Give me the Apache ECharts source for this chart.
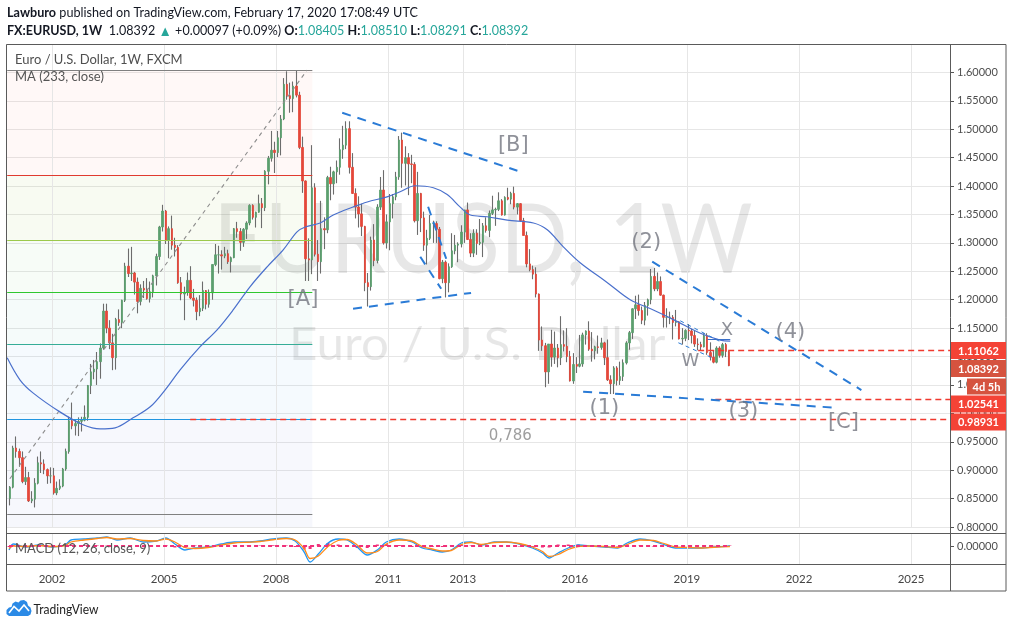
<!DOCTYPE html>
<html>
<head>
<meta charset="utf-8">
<script src="https://cdn.jsdelivr.net/npm/echarts@6/dist/echarts.min.js"></script>
<style>
html,body{margin:0;padding:0;background:#ffffff;}
#chart{width:1013px;height:628px;}
</style>
</head>
<body>
<div id="chart"></div>
<script>
// ================= DATA =================
// monthly EUR/USD candles, first one = Nov 2000
const firstMonth = [2000, 11];
const opens = [
0.8500,0.8700,
0.9390,0.9330,0.9220,0.8800,0.8870,0.8460,0.8490,0.8770,0.9130,0.9110,0.9010,0.8900,
0.8900,0.8600,0.8680,0.8720,0.9020,0.9330,0.9870,0.9780,0.9820,0.9860,0.9880,0.9930,
1.0490,1.0730,1.0780,1.0910,1.1150,1.1800,1.1500,1.1240,1.0980,1.1650,1.1600,1.1990,
1.2590,1.2460,1.2470,1.2310,1.1970,1.2200,1.2170,1.2020,1.2140,1.2420,1.2760,1.3280,
1.3560,1.3040,1.3250,1.2960,1.2920,1.2300,1.2100,1.2130,1.2340,1.2030,1.1990,1.1790,
1.1850,1.2160,1.1920,1.2120,1.2620,1.2790,1.2790,1.2770,1.2810,1.2670,1.2740,1.3250,
1.3200,1.3010,1.3240,1.3350,1.3660,1.3450,1.3540,1.3690,1.3620,1.4260,1.4490,1.4630,
1.4590,1.4850,1.5180,1.5790,1.5590,1.5540,1.5760,1.5600,1.4680,1.4090,1.2720,1.2700,
1.3970,1.2800,1.2670,1.3250,1.3230,1.4150,1.4040,1.4250,1.4330,1.4640,1.4720,1.5010,
1.4330,1.3870,1.3630,1.3510,1.3290,1.2300,1.2230,1.3050,1.2690,1.3630,1.3930,1.3000,
1.3370,1.3690,1.3810,1.4160,1.4810,1.4400,1.4500,1.4390,1.4380,1.3390,1.3870,1.3440,
1.2960,1.3080,1.3340,1.3340,1.3240,1.2370,1.2660,1.2300,1.2580,1.2860,1.2960,1.2980,
1.3190,1.3580,1.3060,1.2820,1.3170,1.2990,1.3010,1.3300,1.3220,1.3520,1.3580,1.3590,
1.3740,1.3490,1.3800,1.3770,1.3870,1.3630,1.3690,1.3390,1.3130,1.2630,1.2530,1.2450,
1.2100,1.1290,1.1190,1.0730,1.1220,1.0990,1.1150,1.0980,1.1210,1.1180,1.1000,1.0570,
1.0860,1.0830,1.0870,1.1380,1.1450,1.1130,1.1100,1.1170,1.1160,1.1240,1.0980,1.0590,
1.0520,1.0800,1.0580,1.0650,1.0890,1.1240,1.1420,1.1840,1.1910,1.1810,1.1640,1.1900,
1.2000,1.2410,1.2190,1.2320,1.2080,1.1690,1.1690,1.1690,1.1600,1.1610,1.1310,1.1320,
1.1460,1.1450,1.1370,1.1220,1.1210,1.1170,1.1370,1.1070,1.0990,1.0900,1.1150,1.1020,
1.1210,1.1090];
const highs = [
0.8720,0.9430,
0.9594,0.9380,0.9330,0.9060,0.8970,0.8630,0.8860,0.9240,0.9330,0.9190,0.9030,0.9050,
0.9040,0.8800,0.8840,0.9040,0.9380,0.9940,1.0190,0.9900,0.9930,0.9940,1.0140,1.0500,
1.0870,1.0940,1.1080,1.1230,1.1930,1.1930,1.1640,1.1400,1.1680,1.1830,1.2000,1.2650,
1.2900,1.2930,1.2490,1.2390,1.2270,1.2330,1.2380,1.2320,1.2440,1.2810,1.3300,1.3670,
1.3580,1.3290,1.3480,1.3090,1.2960,1.2400,1.2230,1.2480,1.2590,1.2190,1.2040,1.2080,
1.2320,1.2170,1.2180,1.2620,1.2980,1.2950,1.2870,1.2930,1.2880,1.2760,1.3260,1.3370,
1.3260,1.3260,1.3380,1.3680,1.3680,1.3550,1.3850,1.3790,1.4280,1.4530,1.4970,1.4780,
1.4970,1.5250,1.5900,1.6020,1.5820,1.5840,1.6040,1.5660,1.4870,1.4100,1.3080,1.4720,
1.4050,1.3050,1.3740,1.3450,1.4180,1.4340,1.4270,1.4450,1.4840,1.5060,1.5140,1.5140,
1.4580,1.3960,1.3820,1.3690,1.3300,1.2470,1.3110,1.3330,1.3680,1.4160,1.4280,1.3500,
1.3860,1.3860,1.4250,1.4880,1.4940,1.4700,1.4580,1.4550,1.4420,1.4250,1.3880,1.3550,
1.3230,1.3490,1.3390,1.3380,1.3280,1.2700,1.2690,1.2640,1.3170,1.3140,1.3010,1.3310,
1.3580,1.3710,1.3170,1.3240,1.3240,1.3420,1.3350,1.3450,1.3570,1.3830,1.3620,1.3890,
1.3770,1.3820,1.3970,1.3900,1.3990,1.3700,1.3700,1.3440,1.3200,1.2890,1.2600,1.2570,
1.2110,1.1530,1.1240,1.1220,1.1470,1.1440,1.1220,1.1710,1.1460,1.1500,1.1100,1.1060,
1.0990,1.1380,1.1420,1.1460,1.1620,1.1430,1.1190,1.1370,1.1330,1.1260,1.1300,1.0670,
1.0830,1.0830,1.0910,1.0950,1.1270,1.1450,1.1850,1.2070,1.2090,1.1880,1.1960,1.2020,
1.2540,1.2560,1.2480,1.2410,1.2090,1.1850,1.1790,1.1730,1.1820,1.1620,1.1500,1.1480,
1.1570,1.1490,1.1450,1.1320,1.1260,1.1410,1.1410,1.1250,1.1110,1.1180,1.1180,1.1240,
1.1240,1.1100];
const lows = [
0.8380,0.8680,
0.9220,0.9060,0.8770,0.8740,0.8440,0.8420,0.8344,0.8750,0.8950,0.8930,0.8760,0.8770,
0.8570,0.8560,0.8650,0.8700,0.8990,0.9290,0.9720,0.9610,0.9600,0.9680,0.9860,0.9870,
1.0340,1.0600,1.0500,1.0610,1.1120,1.1410,1.1130,1.0760,1.0770,1.1540,1.1500,1.1960,
1.2400,1.2330,1.2090,1.1760,1.1900,1.2030,1.2000,1.1950,1.2040,1.2250,1.2700,1.3200,
1.2980,1.2730,1.2880,1.2760,1.2280,1.1990,1.1640,1.2070,1.2010,1.1880,1.1640,1.1710,
1.1800,1.1830,1.1860,1.2000,1.2590,1.2460,1.2530,1.2730,1.2630,1.2480,1.2730,1.3090,
1.2860,1.2930,1.3070,1.3310,1.3410,1.3270,1.3530,1.3260,1.3560,1.4030,1.4430,1.4230,
1.4510,1.4540,1.5160,1.5520,1.5290,1.5300,1.5560,1.4650,1.3880,1.2330,1.2330,1.2450,
1.2760,1.2330,1.2460,1.2890,1.3170,1.3750,1.3850,1.4050,1.4200,1.4480,1.4650,1.4220,
1.3860,1.3430,1.3270,1.3120,1.2150,1.1880,1.2160,1.2590,1.2640,1.3580,1.2970,1.2900,
1.2870,1.3430,1.3750,1.4110,1.3970,1.4010,1.3840,1.4050,1.3360,1.3140,1.3190,1.2860,
1.2620,1.3050,1.3000,1.3000,1.2360,1.2290,1.2040,1.2130,1.2560,1.2800,1.2660,1.2920,
1.3000,1.3050,1.2750,1.2750,1.2790,1.2960,1.2750,1.3180,1.3100,1.3490,1.3300,1.3560,
1.3480,1.3480,1.3750,1.3680,1.3590,1.3500,1.3370,1.3130,1.2570,1.2500,1.2360,1.2040,
1.1100,1.1100,1.0460,1.0520,1.0820,1.0870,1.0810,1.0850,1.1090,1.0900,1.0560,1.0520,
1.0710,1.0810,1.0820,1.1210,1.1100,1.0910,1.0950,1.1050,1.1120,1.0850,1.0570,1.0340,
1.0340,1.0490,1.0500,1.0570,1.0860,1.1120,1.1310,1.1660,1.1720,1.1570,1.1550,1.1720,
1.1920,1.2150,1.2150,1.2070,1.1510,1.1510,1.1570,1.1300,1.1530,1.1300,1.1210,1.1270,
1.1290,1.1230,1.1170,1.1110,1.1110,1.1160,1.1030,1.0930,1.0880,1.0880,1.0980,1.0980,
1.0990,1.0830];
const closes = [
0.8700,0.9390,
0.9330,0.9220,0.8800,0.8870,0.8460,0.8490,0.8770,0.9130,0.9110,0.9010,0.8900,0.8900,
0.8600,0.8680,0.8720,0.9020,0.9330,0.9870,0.9780,0.9820,0.9860,0.9880,0.9930,1.0490,
1.0730,1.0780,1.0910,1.1150,1.1800,1.1500,1.1240,1.0980,1.1650,1.1600,1.1990,1.2590,
1.2460,1.2470,1.2310,1.1970,1.2200,1.2170,1.2020,1.2140,1.2420,1.2760,1.3280,1.3560,
1.3040,1.3250,1.2960,1.2920,1.2300,1.2100,1.2130,1.2340,1.2030,1.1990,1.1790,1.1850,
1.2160,1.1920,1.2120,1.2620,1.2790,1.2790,1.2770,1.2810,1.2670,1.2740,1.3250,1.3200,
1.3010,1.3240,1.3350,1.3660,1.3450,1.3540,1.3690,1.3620,1.4260,1.4490,1.4630,1.4590,
1.4850,1.5180,1.5790,1.5590,1.5540,1.5760,1.5600,1.4680,1.4090,1.2720,1.2700,1.3970,
1.2800,1.2670,1.3250,1.3230,1.4150,1.4040,1.4250,1.4330,1.4640,1.4720,1.5010,1.4330,
1.3870,1.3630,1.3510,1.3290,1.2300,1.2230,1.3050,1.2690,1.3630,1.3930,1.3000,1.3370,
1.3690,1.3810,1.4160,1.4810,1.4400,1.4500,1.4390,1.4380,1.3390,1.3870,1.3440,1.2960,
1.3080,1.3340,1.3340,1.3240,1.2370,1.2660,1.2300,1.2580,1.2860,1.2960,1.2980,1.3190,
1.3580,1.3060,1.2820,1.3170,1.2990,1.3010,1.3300,1.3220,1.3520,1.3580,1.3590,1.3740,
1.3490,1.3800,1.3770,1.3870,1.3630,1.3690,1.3390,1.3130,1.2630,1.2530,1.2450,1.2100,
1.1290,1.1190,1.0730,1.1220,1.0990,1.1150,1.0980,1.1210,1.1180,1.1000,1.0570,1.0860,
1.0830,1.0870,1.1380,1.1450,1.1130,1.1100,1.1170,1.1160,1.1240,1.0980,1.0590,1.0520,
1.0800,1.0580,1.0650,1.0890,1.1240,1.1420,1.1840,1.1910,1.1810,1.1640,1.1900,1.2000,
1.2410,1.2190,1.2320,1.2080,1.1690,1.1690,1.1690,1.1600,1.1610,1.1310,1.1320,1.1460,
1.1450,1.1370,1.1220,1.1210,1.1170,1.1370,1.1070,1.0990,1.0900,1.1150,1.1020,1.1210,
1.1090,1.0839];

// MA(233)
const maYears = [2000.80,2001.14,2001.49,2002.21,2002.83,2003.29,2003.69,2004.17,2004.63,2005.03,2005.43,2005.96,2006.42,2006.85,2007.30,2007.76,2008.19,2008.56,2008.78,2009.18,2009.53,2010.06,2010.44,2010.97,2011.32,2011.72,2012.21,2012.58,2012.93,2013.20,2013.65,2014.19,2014.89,2015.26,2015.69,2016.14,2016.87,2017.48,2018.10,2018.64,2019.36,2019.89,2020.16];
const maValues = [1.0977,1.0590,1.0360,1.0026,0.9800,0.9727,0.9745,0.9921,1.0115,1.0414,1.0766,1.1170,1.1470,1.1820,1.2227,1.2579,1.2878,1.3195,1.3280,1.3350,1.3490,1.3631,1.3720,1.3810,1.3900,1.4005,1.3970,1.3850,1.3630,1.3490,1.3460,1.3400,1.3350,1.3230,1.2930,1.2650,1.2300,1.2000,1.1820,1.1650,1.1410,1.1290,1.1270];

// MACD (12, 26, close, 9)
const macdYears = [2000.85,2000.96,2001.30,2001.65,2002.00,2002.35,2002.51,2002.86,2003.21,2003.47,2003.74,2004.09,2004.44,2004.79,2005.05,2005.29,2005.56,2005.83,2006.18,2006.53,2006.88,2007.22,2007.57,2007.92,2008.27,2008.51,2008.75,2008.91,2009.13,2009.39,2009.66,2009.90,2010.17,2010.44,2010.71,2010.95,2011.30,2011.64,2011.91,2012.18,2012.45,2012.69,2012.96,2013.22,2013.49,2013.84,2014.16,2014.51,2014.86,2015.13,2015.31,2015.55,2015.82,2016.09,2016.44,2016.79,2017.14,2017.40,2017.75,2018.10,2018.34,2018.69,2019.04,2019.39,2019.73,2020.15];
const macdValues = [-0.016,0.008,-0.004,0.004,-0.004,0.004,0.024,0.028,0.032,0.036,0.024,0.032,0.016,0.020,0.032,0.008,-0.016,-0.008,-0.004,0.008,0.016,0.016,0.020,0.028,0.032,0.020,-0.024,-0.064,-0.032,0.012,0.028,0.024,-0.004,-0.036,-0.016,0.016,0.028,0.016,-0.008,-0.016,-0.024,-0.016,0.012,0.016,0.004,0.016,0.016,0.008,-0.008,-0.028,-0.048,-0.028,-0.008,0.004,0.000,-0.004,-0.008,0.012,0.028,0.020,0.008,-0.008,-0.008,-0.008,-0.004,0.000];
const signalValues = [-0.010,0.000,-0.002,0.002,-0.002,0.002,0.016,0.024,0.030,0.034,0.028,0.030,0.022,0.020,0.028,0.016,-0.006,-0.010,-0.006,0.004,0.012,0.015,0.018,0.025,0.030,0.024,-0.010,-0.050,-0.040,-0.002,0.022,0.026,0.004,-0.028,-0.022,0.008,0.024,0.020,-0.002,-0.012,-0.020,-0.018,0.006,0.014,0.006,0.014,0.016,0.010,-0.004,-0.022,-0.042,-0.034,-0.014,-0.002,0.000,-0.002,-0.006,0.006,0.024,0.022,0.012,-0.004,-0.006,-0.008,-0.005,-0.002];
const histValues = [-0.004,0.004,-0.002,0.002,-0.002,0.002,0.006,0.004,0.002,0.002,-0.004,0.002,-0.005,0.000,0.004,-0.006,-0.008,0.002,0.002,0.004,0.004,0.001,0.002,0.003,0.002,-0.004,-0.014,-0.012,0.008,0.012,0.006,-0.002,-0.008,-0.008,0.006,0.008,0.004,-0.004,-0.006,-0.004,-0.004,0.002,0.006,0.002,-0.002,0.002,0.000,-0.002,-0.004,-0.006,-0.006,0.006,0.006,0.006,0.000,-0.002,-0.002,0.006,0.004,-0.002,-0.004,-0.004,-0.002,0.000,0.001,0.002];

// axis ticks
const yearTicks = [2002, 2005, 2008, 2011, 2013, 2016, 2019, 2022, 2025];

// Fibonacci retracement (0 ... 1) drawn 2000 -> 2008
const fibPrices = [1.6038, 1.4195, 1.3055, 1.2133, 1.1212, 0.9900, 0.8228];
const fibYears = [2000.80, 2008.97];
const fibTrendYears = [2000.87, 2008.83];
const fibTrendPrices = [0.885, 1.604];

// horizontal red levels (price, start year)
const levelPrices = [1.11062, 1.02541, 0.98931];
const levelStartYears = [2019.30, 2019.76, 2005.70];

// quote
const lastPrice = 1.08392;
const countdownText = '4d 5h';
const quoteOpen = 1.08405, quoteHigh = 1.08510, quoteLow = 1.08291, quoteClose = 1.08392;
const quoteChange = '+0.00097', quotePct = '+0.09%';

// Elliott wave labels
const waveNames  = ['[A]', '[B]', '(1)', '(2)', 'W', 'X', '(3)', '(4)', '[C]', '0,786'];
const waveYears  = [2008.72, 2014.35, 2016.79, 2017.91, 2019.09, 2020.07, 2020.51, 2021.77, 2023.19, 2014.27];
const wavePrices = [1.1998, 1.4710, 1.0079, 1.3000, 1.0907, 1.1466, 1.0026, 1.1417, 0.9833, 0.9604];

// trend lines [year1, price1, year2, price2]
const majorTrends = [
  [2009.77, 1.529, 2014.46, 1.427],
  [2010.06, 1.184, 2013.22, 1.212],
  [2012.07, 1.3636, 2012.555, 1.2720],
  [2011.86, 1.2755, 2012.42, 1.2192],
  [2018.07, 1.267, 2023.67, 1.041],
  [2016.22, 1.038, 2022.97, 1.010]
];
const minorTrends = [
  [2018.82, 1.1629, 2019.95, 1.1242],
  [2018.77, 1.1242, 2019.68, 1.0977]
];
const solidTrends = [[2019.55, 1.1312, 2020.16, 1.1312]];

// ================= CHART =================
const FONT = "Lato, 'Noto Sans', sans-serif";
const ANN_FONT = "'DejaVu Sans', sans-serif";
const X_MIN = 2000.768, X_MAX = 2026.043;
const Y_MIN = 0.80, Y_MAX = 1.65, Y_STEP = 0.05;
const UP = '#5c9f6e', DOWN = '#e4473a', WICK = '#6c6c6c';

const candleX = closes.map((_, i) => firstMonth[0] + (firstMonth[1] - 1 + i + 0.5) / 12);
const wickData = candleX.map((x, i) => [x, lows[i], lows[i], lows[i], highs[i]]);
const bodyData = candleX.map((x, i) => [x, opens[i], closes[i], Math.min(opens[i], closes[i]), Math.max(opens[i], closes[i])]);

const fibLineColors = ['#808080', '#e03b30', '#9cc94c', '#2fc72f', '#36ad97', '#2196e0', '#808080'];
const fibBandColors = ['rgba(244,67,54,0.04)', 'rgba(156,201,76,0.07)', 'rgba(60,190,60,0.045)', 'rgba(0,150,136,0.04)', 'rgba(33,150,243,0.045)', 'rgba(80,90,200,0.045)', 'rgba(80,90,200,0.05)'];

const bands = [];
for (let i = 0; i < fibPrices.length; i++) {
  const lower = i < fibPrices.length - 1 ? fibPrices[i + 1] : Y_MIN;
  bands.push([{coord: [fibYears[0], fibPrices[i]], itemStyle: {color: fibBandColors[i]}}, {coord: [fibYears[1], lower]}]);
}
const fibLines = fibPrices.map((p, i) => [
  {coord: [fibYears[0], p], lineStyle: {color: fibLineColors[i], width: 1, type: 'solid'}},
  {coord: [fibYears[1], p]}
]);
fibLines.push([
  {coord: [fibTrendYears[0], fibTrendPrices[0]], lineStyle: {color: '#8c8c8c', width: 1.1, type: [4, 4]}},
  {coord: [fibTrendYears[1], fibTrendPrices[1]]}
]);
const vGrid = yearTicks.map(y => ({xAxis: y, lineStyle: {color: '#e6e6e6', width: 1, type: 'solid'}}));
const levelLines = levelPrices.map((p, i) => [
  {coord: [levelStartYears[i], p], lineStyle: {color: '#f0392f', width: 1.4, type: [6, 4]}},
  {coord: [X_MAX, p]}
]);

const seg = s => ({coords: [[s[0], s[1]], [s[2], s[3]]]});

const option = {
  animation: false,
  backgroundColor: '#ffffff',
  grid: [
    {left: 6, right: 63, top: 44, height: 483},
    {left: 6, right: 63, top: 533, height: 31}
  ],
  xAxis: [
    {type: 'value', gridIndex: 0, min: X_MIN, max: X_MAX, show: false},
    {type: 'value', gridIndex: 1, min: X_MIN, max: X_MAX,
     axisLine: {show: false}, splitLine: {show: false},
     axisTick: {show: true, customValues: yearTicks, length: 4, lineStyle: {color: '#555'}},
     axisLabel: {customValues: yearTicks, formatter: v => String(Math.round(v)), margin: 9,
                 color: '#444', fontFamily: FONT, fontSize: 11.5}}
  ],
  yAxis: [
    {type: 'value', gridIndex: 0, position: 'right', min: Y_MIN, max: Y_MAX, interval: Y_STEP,
     axisLine: {show: false},
     axisTick: {show: true, length: 4, lineStyle: {color: '#555'}},
     splitLine: {show: true, lineStyle: {color: '#e6e6e6', width: 1}},
     axisLabel: {formatter: v => v.toFixed(5), showMaxLabel: false, margin: 7,
                 color: '#4e4e4e', fontFamily: FONT, fontSize: 11}},
    {type: 'value', gridIndex: 1, position: 'right', min: -0.072, max: 0.052,
     axisLine: {show: false}, splitLine: {show: false},
     axisTick: {show: true, length: 4, customValues: [0], lineStyle: {color: '#555'}},
     axisLabel: {customValues: [0], formatter: v => Math.abs(v).toFixed(5), margin: 7,
                 color: '#4e4e4e', fontFamily: FONT, fontSize: 11}}
  ],
  series: [
    {name: 'fib', type: 'line', xAxisIndex: 0, yAxisIndex: 0, data: [], silent: true, z: 1,
     markArea: {silent: true, label: {show: false}, data: bands},
     markLine: {silent: true, symbol: ['none', 'none'], label: {show: false}, animation: false,
                lineStyle: {type: 'solid'}, data: [...vGrid, ...fibLines]}},
    {name: 'levels', type: 'line', xAxisIndex: 0, yAxisIndex: 0, data: [], silent: true, z: 6, clip: false,
     markLine: {silent: true, symbol: ['none', 'none'], label: {show: false}, data: levelLines}},
    {name: 'wick', type: 'candlestick', xAxisIndex: 0, yAxisIndex: 0, z: 3, silent: true,
     encode: {x: 0, y: [1, 2, 3, 4]}, barWidth: 1, data: wickData,
     itemStyle: {color: WICK, color0: WICK, borderColor: WICK, borderColor0: WICK, borderWidth: 1.1}},
    {name: 'body', type: 'candlestick', xAxisIndex: 0, yAxisIndex: 0, z: 4, silent: true,
     encode: {x: 0, y: [1, 2, 3, 4]}, barWidth: 2, data: bodyData,
     itemStyle: {color: UP, color0: DOWN, borderColor: UP, borderColor0: DOWN, borderWidth: 0.8}},
    {name: 'MA', type: 'line', xAxisIndex: 0, yAxisIndex: 0, z: 5, silent: true,
     data: maYears.map((y, i) => [y, maValues[i]]), showSymbol: false, smooth: 0.35,
     lineStyle: {color: '#4a70cc', width: 1.2}},
    {name: 'trendMajor', type: 'lines', coordinateSystem: 'cartesian2d', xAxisIndex: 0, yAxisIndex: 0, z: 7, silent: true,
     lineStyle: {color: '#2a7bd6', width: 2, type: [9, 7], opacity: 1, curveness: 0},
     data: majorTrends.map(seg)},
    {name: 'trendMinor', type: 'lines', coordinateSystem: 'cartesian2d', xAxisIndex: 0, yAxisIndex: 0, z: 7, silent: true,
     lineStyle: {color: '#2a7bd6', width: 1, type: [4, 4], opacity: 1, curveness: 0},
     data: minorTrends.map(seg)},
    {name: 'trendSolid', type: 'lines', coordinateSystem: 'cartesian2d', xAxisIndex: 0, yAxisIndex: 0, z: 7, silent: true,
     lineStyle: {color: '#3a6fc8', width: 1, type: 'solid', opacity: 1, curveness: 0},
     data: solidTrends.map(seg)},
    {name: 'waves', type: 'scatter', xAxisIndex: 0, yAxisIndex: 0, z: 8, silent: true,
     symbolSize: 0.1, itemStyle: {color: 'transparent'},
     label: {show: true, position: 'inside', formatter: '{b}', color: '#73767f',
             fontFamily: ANN_FONT, fontSize: 21, fontWeight: 'normal'},
     data: waveNames.map((n, i) => {
       const item = {name: n, value: [waveYears[i], wavePrices[i]]};
       if (n === 'W' || n === 'X') item.label = {fontSize: 18};
       if (n === '0,786') item.label = {fontSize: 15, color: '#868686'};
       return item;
     })},
    // MACD pane
    {name: 'macdGrid', type: 'line', xAxisIndex: 1, yAxisIndex: 1, data: [], silent: true, z: 1,
     markLine: {silent: true, symbol: ['none', 'none'], label: {show: false}, data: vGrid}},
    {name: 'hist', type: 'bar', xAxisIndex: 1, yAxisIndex: 1, z: 2, silent: true, barWidth: 3,
     itemStyle: {color: '#f0307a'},
     data: macdYears.map((y, i) => [y, histValues[i]]),
     markLine: {silent: true, symbol: ['none', 'none'], label: {show: false},
                data: [[{coord: [macdYears[0], 0], lineStyle: {color: '#f0307a', width: 2, type: [4, 3]}},
                        {coord: [macdYears[macdYears.length - 1], 0]}]]}},
    {name: 'MACD', type: 'line', xAxisIndex: 1, yAxisIndex: 1, z: 3, silent: true, showSymbol: false, smooth: 0.3,
     data: macdYears.map((y, i) => [y, macdValues[i]]), lineStyle: {color: '#2196f3', width: 1.3}},
    {name: 'Signal', type: 'line', xAxisIndex: 1, yAxisIndex: 1, z: 3, silent: true, showSymbol: false, smooth: 0.3,
     data: macdYears.map((y, i) => [y, signalValues[i]]), lineStyle: {color: '#ff8c1a', width: 1.3}}
  ]
};

const chart = echarts.init(document.getElementById('chart'), null, {renderer: 'canvas'});
chart.setOption(option);

// ---------- graphics (text, frame, price tags) ----------
const txt = (x, y, text, size, color, extra) => Object.assign({
  type: 'text', x: x, y: y, silent: true, z: 20,
  style: Object.assign({text: text, fontFamily: FONT, fontSize: size, fill: color,
                        align: 'left', verticalAlign: 'middle', textAlign: 'left', textVerticalAlign: 'middle'}, (extra && extra.style) || {})
}, extra && extra.el ? extra.el : {});

const rs = (size, color, weight) => ({fontFamily: FONT, fontSize: size, fill: color, color: color, fontWeight: weight || 'normal'});
const HS = 13.5;
const elements = [];

// header
elements.push({type: 'text', x: 7, y: 13, scaleX: 0.935, silent: true, z: 20, style: {
  text: '{b|Lawburo} published on TradingView.com, February 17, 2020 17:08:49 UTC',
  fontFamily: FONT, fontSize: HS, fill: '#131722', verticalAlign: 'middle',
  rich: {b: rs(HS, '#131722', 'bold')}}});
elements.push({type: 'text', x: 7, y: 31, scaleX: 0.93, silent: true, z: 20, style: {
  text: '{b|FX:EURUSD, 1W}  ' + lastPrice.toFixed(5) + ' {g|\u25B2} ' + quoteChange + ' (' + quotePct + ') ' +
        '{b|O:}{t|' + quoteOpen.toFixed(5) + '} {b|H:}{t|' + quoteHigh.toFixed(5) + '} {b|L:}{t|' + quoteLow.toFixed(5) + '} {b|C:}{t|' + quoteClose.toFixed(5) + '}',
  fontFamily: FONT, fontSize: HS, fill: '#131722', verticalAlign: 'middle',
  rich: {b: rs(HS, '#131722', 'bold'), t: rs(HS, '#26a69a'), g: rs(HS + 1, '#26a69a')}}});

// watermark
elements.push(txt(213, 242, 'EURUSD, 1W', 96, 'rgba(0,0,0,0.095)', {el: {z: 0, scaleX: 0.93}}));
elements.push(txt(289, 345, 'Euro / U.S. Dollar', 47, 'rgba(0,0,0,0.095)', {el: {z: 0, scaleX: 1.05}}));

// legends
elements.push(txt(15, 60, 'Euro / U.S. Dollar, 1W, FXCM', 13, '#4f4f4f'));
elements.push(txt(15, 77, 'MA (233, close)', 13, '#555'));
elements.push(txt(15, 549, 'MACD (12, 26, close, 9)', 13, '#555'));

// frame
const FR = '#5a5a5a';
elements.push({type: 'rect', silent: true, z: 30, shape: {x: 6.5, y: 44.5, width: 999.5, height: 546.5},
  style: {fill: 'none', stroke: FR, lineWidth: 1}});
elements.push({type: 'line', silent: true, z: 30, shape: {x1: 6, y1: 533.5, x2: 1006, y2: 533.5}, style: {stroke: FR, lineWidth: 1}});
elements.push({type: 'line', silent: true, z: 30, shape: {x1: 6, y1: 564.5, x2: 1006, y2: 564.5}, style: {stroke: FR, lineWidth: 1}});
elements.push({type: 'line', silent: true, z: 30, shape: {x1: 950.5, y1: 44, x2: 950.5, y2: 591}, style: {stroke: FR, lineWidth: 1}});

// TradingView logo
elements.push({type: 'polygon', silent: true, z: 20, shape: {points: [
  [9, 616], [6.5, 614], [6.5, 610], [9, 607.5], [11.5, 607], [12.5, 603.5], [15.5, 601.5], [18.5, 602.5],
  [20.5, 600.5], [24, 600], [27, 602], [28, 605.5], [30.5, 607.5], [31.5, 611], [30.5, 614.5], [28, 616]]},
  style: {fill: '#2b8ae6'}});
elements.push({type: 'polyline', silent: true, z: 21, shape: {points: [[9, 613], [14, 606.5], [19, 611], [24, 605], [29, 611]]},
  style: {stroke: '#ffffff', lineWidth: 1.6, fill: 'none'}});
elements.push(txt(33.5, 609, 'TradingView', 14, '#222', {el: {scaleX: 0.86}}));

// price tags on the right axis, positioned through the y scale
const tagW = 55, tagH = 17, tagX = 951;
const toY = v => chart.convertToPixel({yAxisIndex: 0}, v);
const tags = [
  {v: levelPrices[0], color: '#f44336'},
  {v: lastPrice, color: '#d5533f', countdown: true},
  {v: levelPrices[1], color: '#f44336'},
  {v: levelPrices[2], color: '#f44336'}
].map(t => Object.assign(t, {py: toY(t.v)})).sort((a, b) => a.py - b.py);
let prevBottom = -1e9;
tags.forEach(t => {
  const top = Math.max(t.py - tagH / 2, prevBottom + 1);
  elements.push({type: 'rect', silent: true, z: 40, shape: {x: tagX, y: top, width: tagW, height: tagH}, style: {fill: t.color}});
  elements.push(txt(tagX + tagW / 2, top + tagH / 2 + 0.5, t.v.toFixed(5), 11, '#ffffff',
    {style: {fontWeight: 'bold', align: 'center', textAlign: 'center'}, el: {z: 41}}));
  prevBottom = top + tagH;
  if (t.countdown) {
    const cTop = prevBottom + 1.5, cW = 39;
    elements.push({type: 'rect', silent: true, z: 40, shape: {x: tagX + tagW - cW, y: cTop, width: cW, height: tagH - 1}, style: {fill: t.color}});
    elements.push(txt(tagX + tagW - cW / 2, cTop + (tagH - 1) / 2 + 0.5, countdownText, 11, '#ffffff',
      {style: {fontWeight: 'bold', align: 'center', textAlign: 'center'}, el: {z: 41}}));
    prevBottom = cTop + tagH - 1;
  }
});

chart.setOption({graphic: {elements: elements}});
</script>
</body>
</html>
